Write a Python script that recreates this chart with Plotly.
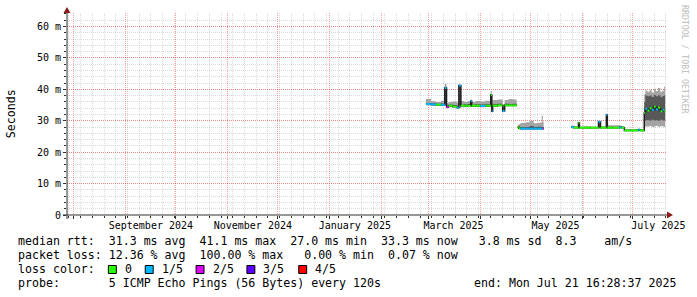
import plotly.graph_objects as go

# ---------------- data (values in milliseconds) ----------------
times = [
    # segment 0 (March / April 2025)
    "2025-02-27 12:00", "2025-03-02 12:00", "2025-03-05 12:00", "2025-03-08 10:00", "2025-03-10 19:00",
    "2025-03-11 20:00", "2025-03-13 00:00", "2025-03-15 12:00", "2025-03-18 00:00", "2025-03-19 05:00",
    "2025-03-20 10:00", "2025-03-22 12:00", "2025-03-24 12:00", "2025-03-26 07:00", "2025-03-26 22:00",
    "2025-03-29 00:00", "2025-04-01 00:00", "2025-04-04 00:00", "2025-04-07 07:00", "2025-04-07 22:00",
    "2025-04-08 10:00", "2025-04-11 10:00", "2025-04-14 10:00", "2025-04-15 14:00", "2025-04-18 00:00",
    "2025-04-20 10:00",
    # segment 1 (late April / May)
    "2025-04-23 10:00", "2025-04-24 00:00", "2025-04-25 00:00", "2025-04-28 02:00", "2025-04-30 12:00",
    "2025-05-02 22:00", "2025-05-05 07:00", "2025-05-07 17:00", "2025-05-08 10:00",
    # segment 2 (late May -> July)
    "2025-05-25 14:00", "2025-05-27 00:00", "2025-05-29 17:00", "2025-05-30 08:00", "2025-06-02 00:00",
    "2025-06-06 00:00", "2025-06-10 17:00", "2025-06-11 22:00", "2025-06-15 10:00", "2025-06-16 00:00",
    "2025-06-19 00:00", "2025-06-23 05:00", "2025-06-24 12:00", "2025-06-26 05:00", "2025-06-30 00:00",
    "2025-07-04 12:00", "2025-07-05 12:00", "2025-07-08 02:00", "2025-07-08 17:00", "2025-07-10 00:00",
    "2025-07-11 07:00", "2025-07-12 12:00", "2025-07-13 20:00", "2025-07-15 00:00", "2025-07-16 07:00",
    "2025-07-17 17:00", "2025-07-19 00:00", "2025-07-20 00:00",
]
segment = [0] * 26 + [1] * 9 + [2] * 28
segment_end = ["2025-04-22 19:00", "2025-05-08 22:00", "2025-07-20 14:00"]

ping_min = [34.9, 34.8, 34.7, 34.7, 34.9, 34.0, 34.3, 34.1, 33.8, 34.0, 34.3, 34.4, 34.3, 34.5, 34.4,
            34.4, 34.3, 34.4, 34.6, 32.6, 34.4, 34.5, 32.7, 34.5, 34.5, 34.5,
            27.5, 27.3, 27.2, 27.2, 27.2, 27.2, 27.2, 27.2, 27.2,
            27.6, 27.6, 27.7, 27.6, 27.6, 27.6, 27.6, 27.6, 27.7, 27.6, 27.6, 27.6, 27.6, 26.7, 26.7,
            26.8, 26.7, 28.0, 28.2, 28.2, 28.3, 28.0, 28.2, 28.4, 28.1, 28.3, 28.2, 28.0]
ping_lo = [35.1, 35.0, 34.9, 34.9, 35.3, 34.2, 34.5, 34.3, 34.0, 35.0, 34.5, 34.6, 34.5, 34.8, 34.6,
           34.6, 34.5, 34.6, 35.0, 32.8, 34.6, 34.7, 32.9, 34.7, 34.7, 34.7,
           27.7, 27.4, 27.3, 27.3, 27.3, 27.3, 27.3, 27.3, 27.3,
           27.7, 27.7, 28.0, 27.7, 27.7, 27.7, 27.9, 27.7, 28.0, 27.7, 27.7, 27.7, 27.7, 26.8, 26.8,
           26.9, 26.8, 30.0, 30.2, 30.2, 30.0, 30.3, 30.1, 30.2, 30.0, 30.3, 30.1, 30.2]
median = [35.3, 35.2, 35.1, 35.1, 40.4, 34.4, 34.8, 34.5, 34.2, 41.2, 34.8, 34.8, 34.7, 36.2, 34.8,
          34.8, 34.7, 34.8, 38.2, 33.0, 34.8, 34.9, 33.1, 34.9, 34.9, 34.9,
          28.1, 27.6, 27.5, 27.5, 27.5, 27.5, 27.5, 27.5, 27.5,
          28.0, 27.8, 29.4, 27.8, 27.8, 27.8, 29.7, 27.8, 31.8, 27.8, 27.8, 27.9, 27.8, 26.9, 26.9,
          27.1, 26.9, 32.5, 33.8, 33.2, 34.0, 33.5, 34.5, 33.6, 34.2, 33.0, 33.5, 33.3]
ping_hi = [35.6, 35.5, 35.4, 35.5, 40.8, 34.7, 35.2, 35.0, 34.6, 41.3, 35.2, 35.3, 35.3, 36.4, 35.2,
           35.3, 35.2, 35.3, 38.5, 34.5, 35.3, 35.4, 34.3, 35.4, 35.3, 35.4,
           28.3, 28.0, 27.9, 28.0, 28.3, 28.0, 28.1, 28.0, 28.0,
           28.2, 28.0, 29.5, 28.0, 28.0, 28.0, 29.8, 28.0, 31.9, 28.1, 28.1, 28.1, 28.0, 27.1, 27.1,
           27.2, 27.1, 36.0, 38.0, 37.8, 38.0, 37.6, 38.2, 37.8, 38.1, 37.5, 37.9, 38.0]
ping_max = [36.9, 36.2, 36.0, 36.4, 41.7, 35.6, 36.0, 36.1, 35.8, 41.5, 36.3, 36.0, 36.2, 36.8, 36.0,
            36.3, 36.1, 36.4, 39.5, 35.5, 36.6, 36.8, 35.0, 36.6, 36.9, 36.8,
            28.6, 28.9, 29.3, 29.5, 30.0, 29.2, 29.4, 31.6, 29.6,
            28.5, 28.3, 29.7, 28.2, 28.3, 28.2, 30.0, 28.3, 32.2, 28.6, 28.6, 28.5, 28.3, 27.3, 27.4,
            27.5, 27.4, 38.5, 39.6, 39.2, 39.8, 39.0, 40.2, 39.5, 40.4, 39.2, 39.6, 40.9]
loss = [1, 1, 0, 1, 1, 2, 0, 0, 1, 1, 0, 0, 0, 1, 0, 0, 1, 0, 0, 1, 0, 0, 1, 0, 0, 0,
        0, 0, 1, 1, 1, 1, 1, 1, 2,
        1, 0, 0, 0, 0, 0, 1, 0, 1, 0, 0, 1, 0, 0, 0, 1, 0, 0, 1, 0, 0, 1, 0, 1, 0, 0, 1, 0]

loss_labels = ["0", "1/5", "2/5", "3/5", "4/5"]
loss_colors = ["#26ff00", "#00b8ff", "#dd00ff", "#5e00ff", "#ff0000"]

x_start, x_end = "2024-07-27 20:00", "2025-07-21 16:28"
month_starts = ["2024-08-01", "2024-09-01", "2024-10-01", "2024-11-01", "2024-12-01", "2025-01-01",
                "2025-02-01", "2025-03-01", "2025-04-01", "2025-05-01", "2025-06-01", "2025-07-01"]
month_label_pos = ["2024-09-16", "2024-11-16", "2025-01-16", "2025-03-16", "2025-05-16", "2025-07-16 12:00"]
month_labels = ["September 2024", "November 2024", "January 2025", "March 2025", "May 2025", "July 2025"]
ytick_vals = [0, 10, 20, 30, 40, 50, 60]
ytick_text = ["0", "10 m", "20 m", "30 m", "40 m", "50 m", "60 m"]

legend_rtt = "median rtt:  31.3 ms avg  41.1 ms max  27.0 ms min  33.3 ms now   3.8 ms sd  8.3    am/s"
legend_loss = "packet loss: 12.36 % avg  100.00 % max   0.00 % min  0.07 % now"
legend_probe = "probe:       5 ICMP Echo Pings (56 Bytes) every 120s"
legend_end = "end: Mon Jul 21 16:28:37 2025"

# ---------------- layout geometry (pixels) ----------------
FW, FH = 697, 297
L, R, T, B = 67, 669, 13, 215
W, H = R - L, B - T


def px(x):
    return (x - L) / W


def py(y):
    return (B - y) / H


def nb(s):
    return s.replace(" ", "\u00a0")


MONO = "DejaVu Sans Mono"
MAJOR = "rgba(255,0,0,0.38)"
MINOR = "rgba(150,150,150,0.35)"
AXIS = "#303030"
ARROW = "#8c1c1c"

fig = go.Figure()

for s, end in enumerate(segment_end):
    idx = [i for i, v in enumerate(segment) if v == s]
    xs = [times[i] for i in idx] + [end]

    def col(arr):
        v = [arr[i] for i in idx]
        return v + [v[-1]]

    for lo, hi, color in ((ping_min, ping_max, "#a4a4a4"), (ping_lo, ping_hi, "#585858")):
        fig.add_trace(go.Scatter(x=xs, y=col(lo), mode="lines", line=dict(width=0, shape="hv"),
                                 hoverinfo="skip", showlegend=False))
        fig.add_trace(go.Scatter(x=xs, y=col(hi), mode="lines", line=dict(width=0, shape="hv"),
                                 fill="tonexty", fillcolor=color, hoverinfo="skip", showlegend=False))
    fig.add_trace(go.Scatter(x=xs, y=col(median), mode="lines",
                             line=dict(width=1.5, color="#202020", shape="hv"),
                             hoverinfo="skip", showlegend=False))

# median coloured by loss
for lvl, color in enumerate(loss_colors):
    xs, ys = [], []
    for i, m in enumerate(median):
        if loss[i] != lvl:
            continue
        nxt = times[i + 1] if i + 1 < len(times) and segment[i + 1] == segment[i] else segment_end[segment[i]]
        xs += [times[i], nxt, None]
        ys += [m, m, None]
    if xs:
        fig.add_trace(go.Scatter(x=xs, y=ys, mode="lines", line=dict(width=2, color=color),
                                 hoverinfo="skip", showlegend=False))

# carrier trace for the label axis
fig.add_trace(go.Scatter(x=month_label_pos, y=[None] * len(month_label_pos), xaxis="x2", yaxis="y",
                         mode="markers", hoverinfo="skip", showlegend=False))

grid_dash = "1px,1px"
fig.update_layout(
    width=FW, height=FH, autosize=False,
    margin=dict(l=L, r=FW - R, t=T, b=FH - B, pad=0),
    paper_bgcolor="white", plot_bgcolor="white",
    font=dict(family=MONO, size=10, color="#000000"),
    xaxis=dict(type="date", range=[x_start, x_end], tickmode="array", tickvals=month_starts,
               showticklabels=False, ticks="outside", ticklen=3, tickcolor=AXIS, tickwidth=1,
               showgrid=True, gridcolor=MAJOR, griddash=grid_dash, gridwidth=1,
               minor=dict(tick0="2024-07-29", dtick=7 * 86400000, showgrid=True, gridcolor=MINOR,
                          griddash=grid_dash, ticks="outside", ticklen=2, tickcolor=AXIS),
               showline=False, zeroline=False, fixedrange=True),
    xaxis2=dict(type="date", overlaying="x", anchor="y", side="bottom", range=[x_start, x_end],
                tickmode="array", tickvals=month_label_pos, ticktext=month_labels, ticks="",
                ticklabelstandoff=3,
                showgrid=False, showline=False, zeroline=False, tickfont=dict(family=MONO, size=10),
                fixedrange=True),
    yaxis=dict(range=[0, 64.3], tickmode="array", tickvals=ytick_vals, ticktext=ytick_text,
               ticks="outside", ticklen=3, tickcolor=AXIS, showgrid=True, gridcolor=MAJOR,
               griddash=grid_dash, minor=dict(tick0=0, dtick=2, showgrid=True, gridcolor=MINOR,
                                              griddash=grid_dash, ticks="outside", ticklen=2,
                                              tickcolor=AXIS),
               zeroline=False, showline=False, tickfont=dict(family=MONO, size=10), fixedrange=True),
)

shapes = [
    dict(type="line", xref="paper", yref="paper", x0=px(L), x1=px(L), y0=py(219), y1=py(10),
         line=dict(color=AXIS, width=1)),
    dict(type="line", xref="paper", yref="paper", x0=px(63), x1=px(671), y0=py(B), y1=py(B),
         line=dict(color=AXIS, width=1)),
    dict(type="path", xref="paper", yref="paper",
         path=f"M {px(63.5)} {py(13)} L {px(70.5)} {py(13)} L {px(67)} {py(7)} Z",
         fillcolor=ARROW, line=dict(color=ARROW, width=0)),
    dict(type="path", xref="paper", yref="paper",
         path=f"M {px(669)} {py(211.5)} L {px(669)} {py(218.5)} L {px(675)} {py(215)} Z",
         fillcolor=ARROW, line=dict(color=ARROW, width=0)),
]

LEG = 11.6
annotations = [
    dict(text="Seconds", x=px(11), y=py(114), textangle=-90, font=dict(family=MONO, size=LEG)),
    dict(text=nb("RRDTOOL / TOBI OETIKER"), x=px(687), y=py(60), textangle=90,
         font=dict(family=MONO, size=8.2, color="#bdbdbd")),
    dict(text=nb(legend_rtt), x=px(16), y=py(241), xanchor="left", font=dict(family=MONO, size=LEG)),
    dict(text=nb(legend_loss), x=px(16), y=py(255), xanchor="left", font=dict(family=MONO, size=LEG)),
    dict(text=nb("loss color:"), x=px(16), y=py(269), xanchor="left", font=dict(family=MONO, size=LEG)),
    dict(text=nb(legend_probe), x=px(16), y=py(283), xanchor="left", font=dict(family=MONO, size=LEG)),
    dict(text=nb(legend_end), x=px(680), y=py(283), xanchor="right", font=dict(family=MONO, size=LEG)),
]
swatch_x = [108, 145, 196, 247, 299]
for sx, lab, color in zip(swatch_x, loss_labels, loss_colors):
    shapes.append(dict(type="rect", xref="paper", yref="paper", x0=px(sx + 0.5), x1=px(sx + 8.5),
                       y0=py(273.5), y1=py(265.5), fillcolor=color, line=dict(color="#000000", width=1)))
    annotations.append(dict(text=lab, x=px(sx + 15), y=py(269), xanchor="left",
                            font=dict(family=MONO, size=LEG)))

for a in annotations:
    a.update(xref="paper", yref="paper", showarrow=False)
    a.setdefault("xanchor", "center")
    a.setdefault("yanchor", "middle")

fig.update_layout(shapes=shapes, annotations=annotations)
fig.write_html("out.html")
